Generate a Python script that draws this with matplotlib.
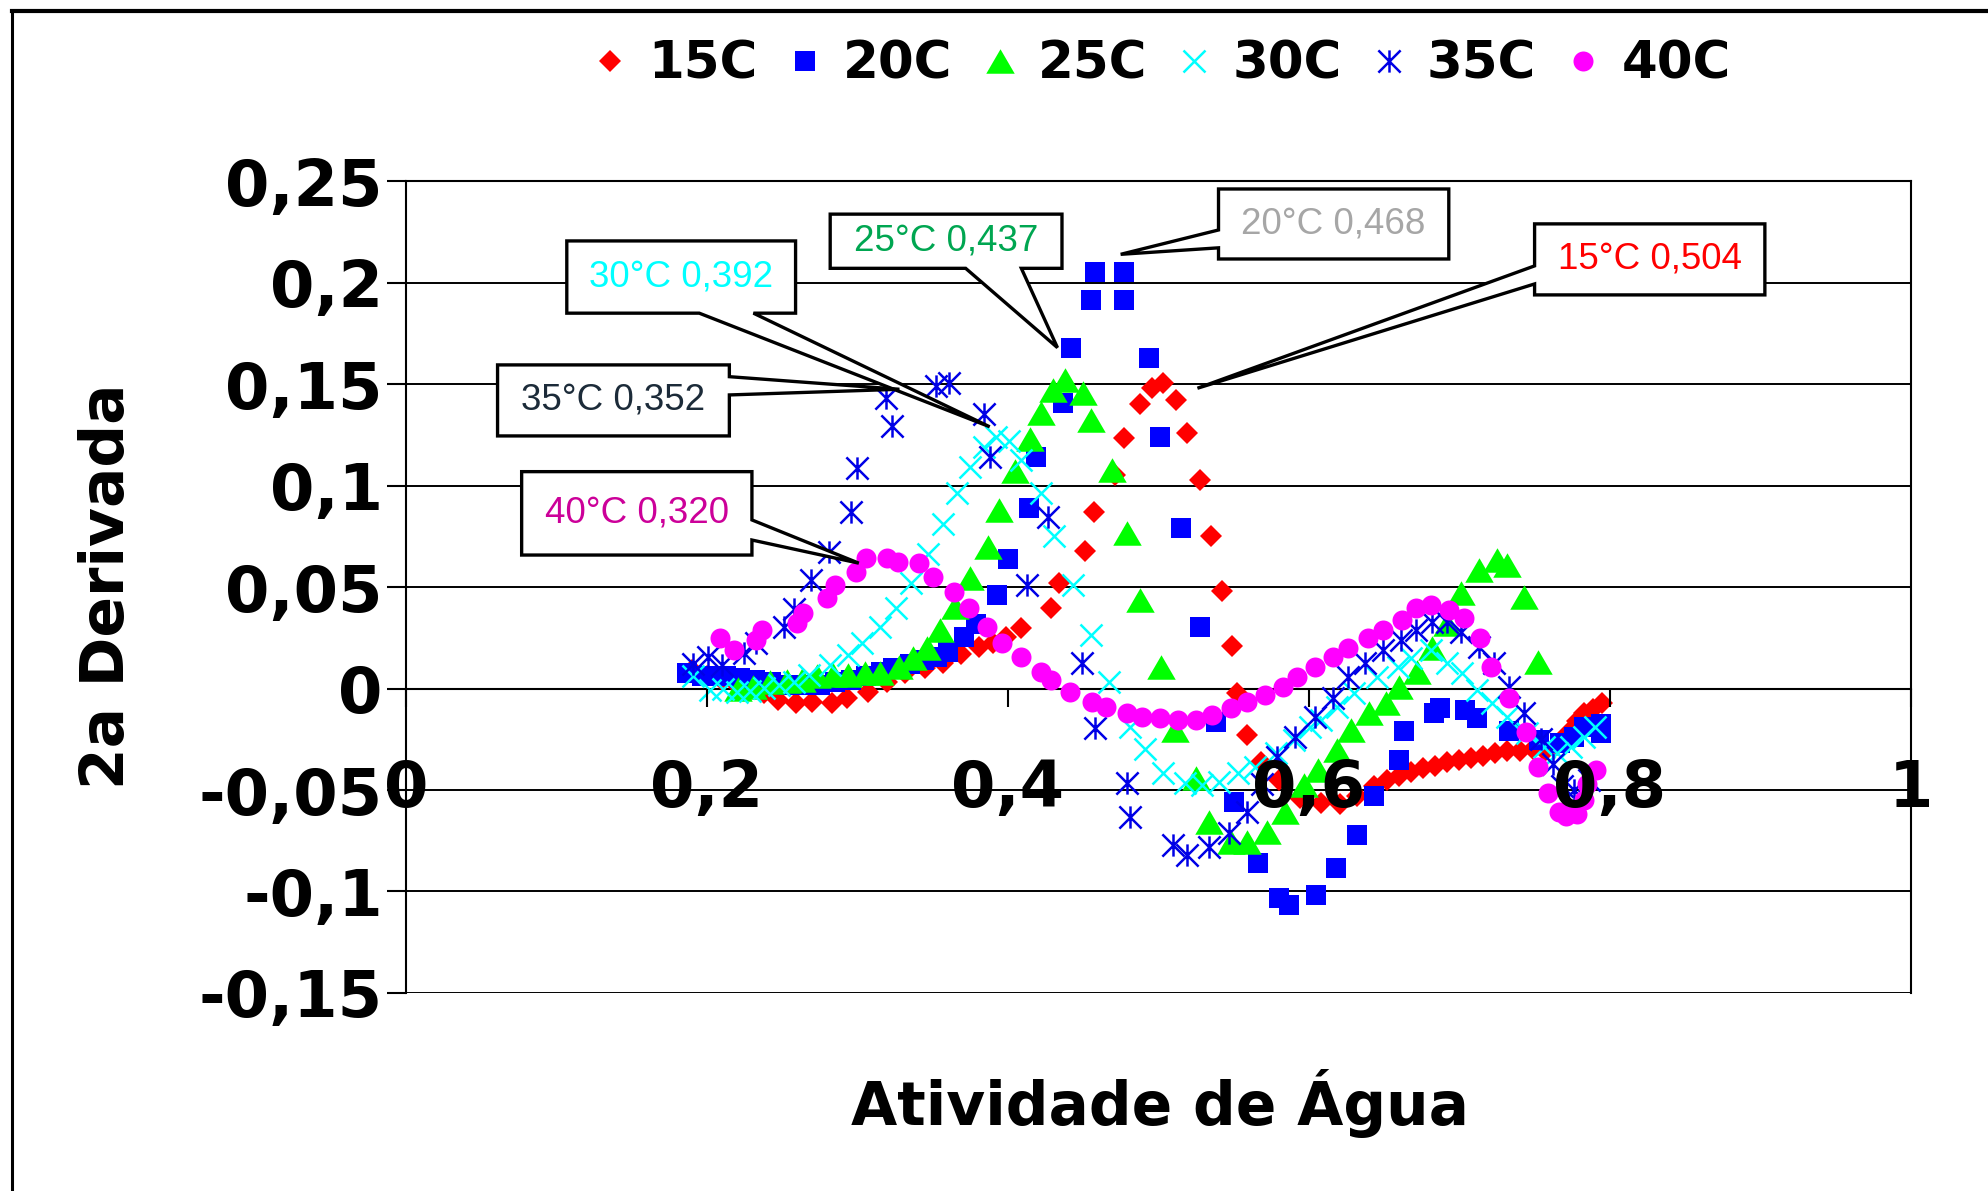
import matplotlib
matplotlib.use("Agg")
import matplotlib.pyplot as plt
from matplotlib.path import Path
from matplotlib.patches import Polygon
from matplotlib.lines import Line2D

# second derivative of the sorption isotherm, one series per temperature
aw_15 = [0.190, 0.200, 0.210, 0.220, 0.229, 0.238, 0.247, 0.259, 0.270, 0.283,
         0.293, 0.307, 0.320, 0.332, 0.345, 0.357, 0.369, 0.381, 0.390, 0.399,
         0.409, 0.429, 0.434, 0.451, 0.457, 0.471, 0.477, 0.488, 0.496, 0.503,
         0.512, 0.519, 0.528, 0.535, 0.542, 0.549, 0.552, 0.559, 0.568, 0.580,
         0.594, 0.608, 0.621, 0.632, 0.643, 0.652, 0.660, 0.668, 0.676, 0.684,
         0.692, 0.700, 0.708, 0.716, 0.724, 0.732, 0.740, 0.749, 0.757, 0.765,
         0.772, 0.778, 0.783, 0.789, 0.795]
d2_15 = [0.009, 0.006, 0.004, 0.002, 0.000, -0.002, -0.0056, -0.0072, -0.0064, -0.0072,
         -0.0048, -0.0015, 0.003, 0.0075, 0.010, 0.0125, 0.017, 0.0207, 0.0225, 0.0256,
         0.030, 0.0396, 0.052, 0.068, 0.087, 0.105, 0.1235, 0.140, 0.148, 0.1505,
         0.142, 0.126, 0.103, 0.075, 0.048, 0.021, -0.002, -0.023, -0.036, -0.045,
         -0.054, -0.0565, -0.057, -0.053, -0.048, -0.045, -0.043, -0.041, -0.039, -0.038,
         -0.036, -0.035, -0.034, -0.033, -0.032, -0.031, -0.031, -0.030, -0.031, -0.028,
         -0.022, -0.016, -0.012, -0.010, -0.007]

aw_20 = [0.187, 0.197, 0.205, 0.213, 0.222, 0.232, 0.243, 0.253, 0.264, 0.275,
         0.285, 0.296, 0.306, 0.316, 0.324, 0.335, 0.344, 0.353, 0.360, 0.371,
         0.379, 0.393, 0.400, 0.414, 0.419, 0.437, 0.442, 0.455, 0.458, 0.477,
         0.477, 0.494, 0.501, 0.515, 0.528, 0.538, 0.550, 0.566, 0.580, 0.587,
         0.605, 0.618, 0.632, 0.643, 0.660, 0.663, 0.683, 0.687, 0.704, 0.712,
         0.733, 0.753, 0.767, 0.776, 0.783, 0.794, 0.794]
d2_20 = [0.0075, 0.006, 0.006, 0.006, 0.005, 0.004, 0.003, 0.002, 0.002, 0.002,
         0.003, 0.004, 0.006, 0.008, 0.010, 0.012, 0.014, 0.0157, 0.018, 0.0256,
         0.032, 0.046, 0.064, 0.089, 0.114, 0.1406, 0.168, 0.1915, 0.2055, 0.2055,
         0.1915, 0.163, 0.124, 0.079, 0.0305, -0.0163, -0.0557, -0.086, -0.1034, -0.1067,
         -0.1017, -0.0886, -0.072, -0.053, -0.035, -0.021, -0.012, -0.0097, -0.0105, -0.0146,
         -0.021, -0.0253, -0.027, -0.0237, -0.0188, -0.0175, -0.022]

aw_25 = [0.221, 0.231, 0.242, 0.253, 0.263, 0.273, 0.284, 0.294, 0.305, 0.315,
         0.328, 0.337, 0.346, 0.355, 0.365, 0.375, 0.387, 0.394, 0.405, 0.415,
         0.422, 0.430, 0.438, 0.450, 0.455, 0.469, 0.479, 0.488, 0.502, 0.511,
         0.525, 0.534, 0.548, 0.559, 0.572, 0.584, 0.597, 0.606, 0.619, 0.628,
         0.640, 0.651, 0.660, 0.672, 0.682, 0.692, 0.701, 0.713, 0.725, 0.732,
         0.743, 0.752]
d2_25 = [0.000, 0.001, 0.003, 0.0035, 0.0042, 0.006, 0.0067, 0.0067, 0.0075, 0.0075,
         0.0108, 0.015, 0.020, 0.029, 0.040, 0.0544, 0.070, 0.088, 0.107, 0.123,
         0.1357, 0.147, 0.152, 0.1455, 0.1324, 0.1077, 0.0765, 0.0437, 0.0108, -0.0204,
         -0.0442, -0.0656, -0.0755, -0.0755, -0.0705, -0.0607, -0.0475, -0.040, -0.0303, -0.0204,
         -0.0122, -0.0072, 0.0009, 0.0083, 0.0199, 0.032, 0.047, 0.0585, 0.0634, 0.061,
         0.0453, 0.0133]

aw_30 = [0.191, 0.202, 0.211, 0.220, 0.229, 0.238, 0.248, 0.258, 0.268, 0.282,
         0.294, 0.303, 0.315, 0.326, 0.336, 0.347, 0.357, 0.366, 0.375, 0.384,
         0.392, 0.401, 0.409, 0.422, 0.431, 0.443, 0.455, 0.467, 0.481, 0.491,
         0.503, 0.518, 0.529, 0.540, 0.553, 0.564, 0.578, 0.590, 0.601, 0.608,
         0.619, 0.630, 0.645, 0.659, 0.668, 0.681, 0.692, 0.702, 0.712, 0.722,
         0.732, 0.745, 0.756, 0.765, 0.774, 0.783, 0.790]
d2_30 = [0.006, -0.0007, 0.000, -0.0015, -0.001, 0.0001, 0.0018, 0.0034, 0.0067, 0.0116,
         0.0166, 0.0223, 0.0305, 0.0396, 0.0519, 0.0662, 0.081, 0.0963, 0.109, 0.119,
         0.124, 0.122, 0.1127, 0.0963, 0.075, 0.051, 0.0264, 0.0034, -0.0188, -0.030,
         -0.0418, -0.0467, -0.0475, -0.0459, -0.0418, -0.0385, -0.032, -0.0253, -0.0188, -0.0155,
         -0.009, -0.0023, 0.0059, 0.0108, 0.0149, 0.019, 0.0125, 0.0075, -0.0007, -0.0072,
         -0.0138, -0.022, -0.0286, -0.0319, -0.0286, -0.0237, -0.0188]

aw_35 = [0.191, 0.201, 0.210, 0.225, 0.233, 0.251, 0.258, 0.269, 0.281, 0.296,
         0.300, 0.319, 0.323, 0.352, 0.361, 0.384, 0.388, 0.413, 0.427, 0.449,
         0.458, 0.479, 0.481, 0.510, 0.519, 0.534, 0.547, 0.559, 0.569, 0.579,
         0.591, 0.604, 0.616, 0.626, 0.637, 0.649, 0.661, 0.671, 0.682, 0.692,
         0.701, 0.713, 0.723, 0.733, 0.743, 0.754, 0.762, 0.768, 0.776, 0.786]
d2_35 = [0.012, 0.0157, 0.0116, 0.0174, 0.0223, 0.0305, 0.039, 0.0535, 0.0675, 0.0872,
         0.1086, 0.143, 0.1294, 0.149, 0.1505, 0.1353, 0.1143, 0.051, 0.0847, 0.0125,
         -0.0196, -0.0467, -0.0631, -0.0771, -0.082, -0.0779, -0.0713, -0.0607, -0.047, -0.0336,
         -0.0237, -0.0138, -0.0048, 0.0059, 0.0125, 0.019, 0.024, 0.0289, 0.033, 0.033,
         0.028, 0.0207, 0.0125, 0.0009, -0.0122, -0.025, -0.037, -0.048, -0.050, -0.045]

aw_40 = [0.209, 0.218, 0.233, 0.237, 0.260, 0.264, 0.280, 0.285, 0.299, 0.306,
         0.320, 0.327, 0.341, 0.350, 0.364, 0.374, 0.386, 0.396, 0.409, 0.422,
         0.429, 0.441, 0.456, 0.465, 0.479, 0.489, 0.501, 0.513, 0.525, 0.536,
         0.548, 0.559, 0.571, 0.583, 0.592, 0.604, 0.616, 0.626, 0.639, 0.649,
         0.662, 0.671, 0.681, 0.693, 0.703, 0.714, 0.721, 0.733, 0.744, 0.752,
         0.759, 0.766, 0.771, 0.778, 0.783, 0.785, 0.791]
d2_40 = [0.0248, 0.019, 0.024, 0.0289, 0.0322, 0.0371, 0.0445, 0.051, 0.0576, 0.0642,
         0.0642, 0.0625, 0.0617, 0.0552, 0.0478, 0.0396, 0.0305, 0.0223, 0.0157, 0.0083,
         0.0042, -0.0015, -0.0064, -0.0089, -0.0122, -0.0138, -0.0146, -0.0155, -0.0155, -0.013,
         -0.0097, -0.0064, -0.0032, 0.0009, 0.0059, 0.0108, 0.0157, 0.0199, 0.0248, 0.0289,
         0.0338, 0.0396, 0.0412, 0.0387, 0.0346, 0.0248, 0.0108, -0.0048, -0.0212, -0.0385,
         -0.0516, -0.0607, -0.063, -0.062, -0.055, -0.047, -0.040]

series_names = ["15C", "20C", "25C", "30C", "35C", "40C"]

x_ticks = [0, 0.2, 0.4, 0.6, 0.8, 1.0]
x_tick_labels = ["0", "0,2", "0,4", "0,6", "0,8", "1"]
y_ticks = [-0.15, -0.1, -0.05, 0, 0.05, 0.1, 0.15, 0.2, 0.25]
y_tick_labels = ["-0,15", "-0,1", "-0,05", "0", "0,05", "0,1", "0,15", "0,2", "0,25"]

# callouts: text, colour, box (x0, x1, y0, y1), side of the pointer, pointer base, pointer tip
callouts = [
    ("15°C 0,504", "#FF0000", (0.750, 0.903, 0.194, 0.229), "left", (0.1994, 0.2083), (0.526, 0.148)),
    ("20°C 0,468", "#A6A6A6", (0.540, 0.693, 0.2117, 0.2462), "left", (0.2172, 0.226), (0.475, 0.214)),
    ("25°C 0,437", "#00A651", (0.282, 0.436, 0.2071, 0.2338), "bottom", (0.372, 0.409), (0.433, 0.168)),
    ("30°C 0,392", "#00FFFF", (0.107, 0.259, 0.185, 0.2206), "bottom", (0.195, 0.231), (0.388, 0.129)),
    ("35°C 0,352", "#1C2B39", (0.061, 0.215, 0.1245, 0.1595), "right", (0.1447, 0.1537), (0.328, 0.1475)),
    ("40°C 0,320", "#CC0099", (0.077, 0.230, 0.0658, 0.1069), "right", (0.0732, 0.0831), (0.301, 0.0618)),
]

BOLD = {"family": "DejaVu Sans", "weight": "bold"}

# Excel-style asterisk: an x with a vertical stroke through it
asterisk = Path([(-0.5, -0.5), (0.5, 0.5), (-0.5, 0.5), (0.5, -0.5), (0, -0.5), (0, 0.5)],
                [Path.MOVETO, Path.LINETO] * 3)
triangle = [(0, 0.43), (-0.5, -0.43), (0.5, -0.43)]

fig = plt.figure(figsize=(19.88, 11.91), dpi=100)
ax = fig.add_axes([0.2041, 0.1663, 0.7571, 0.6815])

styles = [
    dict(marker="D", ms=11.2, color="#FF0000", mew=0),
    dict(marker="s", ms=14.2, color="#0000FF", mew=0),
    dict(marker=triangle, ms=20.5, color="#00FF00", mew=0),
    dict(marker="x", ms=16.5, color="#00FFFF", mew=1.8),
    dict(marker=asterisk, ms=16, color="#0000E6", mfc="none", mew=1.8),
    dict(marker="o", ms=14.4, color="#FF00FF", mew=0),
]
data = [(aw_15, d2_15), (aw_20, d2_20), (aw_25, d2_25),
        (aw_30, d2_30), (aw_35, d2_35), (aw_40, d2_40)]

handles = []
for (aw, d2), st, name in zip(data, styles, series_names):
    h, = ax.plot(aw, d2, ls="none", label=name, zorder=3, **st)
    handles.append(h)

# x axis crosses at zero; set this before styling the ticks
ax.spines["bottom"].set_position(("data", 0))
for sp in ax.spines.values():
    sp.set_color("black")
    sp.set_linewidth(1.5)

ax.set_xlim(0, 1)
ax.set_ylim(-0.15, 0.25)
ax.set_xticks(x_ticks)
ax.set_xticklabels(x_tick_labels)
ax.set_yticks(y_ticks)
ax.set_yticklabels(y_tick_labels)
ax.tick_params(axis="y", direction="out", length=13.5, width=1.5, pad=3)
ax.tick_params(axis="x", direction="out", length=13, width=1.5, pad=37)
for lab in ax.get_xticklabels() + ax.get_yticklabels():
    lab.set_fontfamily("DejaVu Sans")
    lab.set_fontweight("bold")
    lab.set_fontsize(46)

ax.grid(axis="y", color="black", lw=1.4)
ax.set_axisbelow(True)
# x tick labels sit on top of the markers
ax.xaxis.set_zorder(4)

# callout boxes with wedge pointers
for text, col, (x0, x1, y0, y1), side, base, tip in callouts:
    if side == "left":
        pts = [(x0, y1), (x1, y1), (x1, y0), (x0, y0), (x0, base[0]), tip, (x0, base[1])]
    elif side == "right":
        pts = [(x0, y1), (x1, y1), (x1, base[1]), tip, (x1, base[0]), (x1, y0), (x0, y0)]
    else:
        pts = [(x0, y1), (x1, y1), (x1, y0), (base[1], y0), tip, (base[0], y0), (x0, y0)]
    ax.add_patch(Polygon(pts, closed=True, facecolor="white", edgecolor="black",
                         lw=2.4, joinstyle="miter", zorder=5, clip_on=False))
    ax.text((x0 + x1) / 2, (y0 + y1) / 2, text, color=col, fontsize=26.5,
            family="Liberation Sans", ha="center", va="center", zorder=6)

fig.legend(handles=handles, labels=series_names, loc="center",
           bbox_to_anchor=(0.5836, 0.9455), ncol=6, frameon=False,
           prop={**BOLD, "size": 37}, handlelength=0.8, handletextpad=0.34,
           columnspacing=0.52, markerscale=1.0)

fig.text(0.0543, 0.508, "2a Derivada", rotation=90, ha="center", va="center",
         fontsize=43, **BOLD)
fig.text(0.5835, 0.055, "Atividade de Água", ha="center", va="baseline",
         fontsize=43, **BOLD)

# chart area border (only top and left edges fall inside the image)
fig.add_artist(Line2D([12 / 1988, 12 / 1988], [0, 1 - 11 / 1191], color="black", lw=2.2))
fig.add_artist(Line2D([12 / 1988, 1], [1 - 11 / 1191, 1 - 11 / 1191], color="black", lw=3))

fig.savefig("out.png", dpi=100)
